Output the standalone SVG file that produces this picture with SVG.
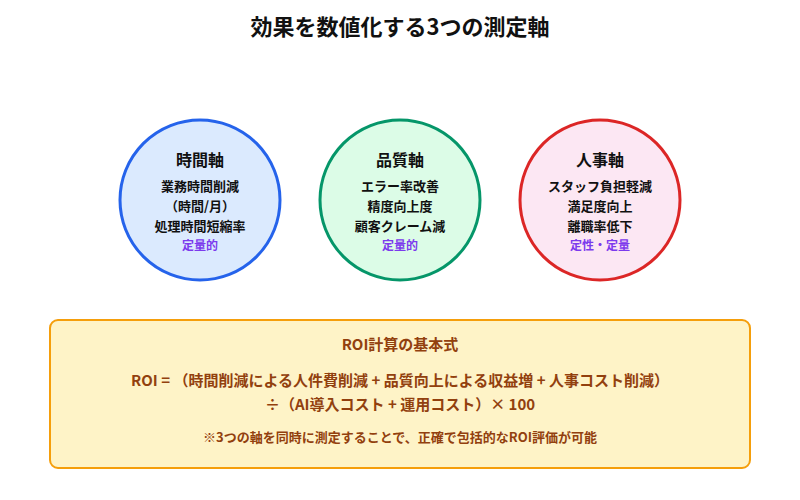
<svg xmlns="http://www.w3.org/2000/svg" width="800" height="500" viewBox="0 0 800 500">
<style>
text{font-family:"Noto Sans CJK JP","Noto Sans",sans-serif;text-anchor:middle}
.title{font-size:22px;font-weight:700;fill:#111}
.h{font-size:16px;font-weight:700;fill:#111}
.t{font-size:13px;font-weight:700;fill:#111}
.p{font-size:12px;font-weight:700;fill:#7c3aed}
.b{fill:#92400e;font-weight:700}
</style>
<rect width="800" height="500" fill="#fff"/>
<text class="title" x="400" y="35">効果を数値化する3つの測定軸</text>
<g id="time">
<circle cx="200" cy="200" r="80" fill="#dbeafe" stroke="#2563eb" stroke-width="3"/>
<text class="h" x="200" y="166">時間軸</text>
<text class="t" x="200" y="191">業務時間削減</text>
<text class="t" x="200" y="211">（時間/月）</text>
<text class="t" x="200" y="231">処理時間短縮率</text>
<text class="p" x="200" y="250">定量的</text>
</g>
<g id="quality">
<circle cx="400" cy="200" r="80" fill="#dcfce7" stroke="#059669" stroke-width="3"/>
<text class="h" x="400" y="166">品質軸</text>
<text class="t" x="400" y="191">エラー率改善</text>
<text class="t" x="400" y="211">精度向上度</text>
<text class="t" x="400" y="231">顧客クレーム減</text>
<text class="p" x="400" y="250">定量的</text>
</g>
<g id="hr">
<circle cx="600" cy="200" r="80" fill="#fce7f3" stroke="#dc2626" stroke-width="3"/>
<text class="h" x="600" y="166">人事軸</text>
<text class="t" x="600" y="191">スタッフ負担軽減</text>
<text class="t" x="600" y="211">満足度向上</text>
<text class="t" x="600" y="231">離職率低下</text>
<text class="p" x="600" y="250">定性・定量</text>
</g>
<g id="connectors"></g>
<g id="roi">
<rect x="50" y="320" width="700" height="148" rx="8" fill="#fef3c7" stroke="#f59e0b" stroke-width="2"/>
<text class="b" x="400" y="350" font-size="15">ROI計算の基本式</text>
<text class="b" x="400" y="386" font-size="15">ROI = （時間削減による人件費削減 + 品質向上による収益増 + 人事コスト削減）</text>
<text class="b" x="400" y="410" font-size="15">÷（AI導入コスト + 運用コスト）× 100</text>
<text class="b" x="400" y="442" font-size="13">※3つの軸を同時に測定することで、正確で包括的なROI評価が可能</text>
</g>
</svg>
